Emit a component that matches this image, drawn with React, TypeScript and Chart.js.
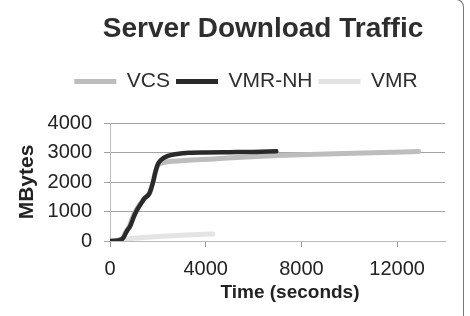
import React, { useEffect, useRef } from "react";
import { Chart, registerables } from "chart.js";

Chart.register(...registerables);

const chartTitle = "Server Download Traffic";
const xAxisTitle = "Time (seconds)";
const yAxisTitle = "MBytes";
const seriesNames = ["VCS", "VMR-NH", "VMR"];

const vcsX = [0, 500, 650, 800, 950, 1100, 1250, 1450, 1650, 1800, 1900, 2000, 2200, 2600, 3300, 4300, 5500, 7000, 9000, 11000, 12900];
const vcsY = [0, 60, 300, 480, 800, 1050, 1250, 1450, 1620, 2000, 2330, 2560, 2650, 2700, 2740, 2780, 2840, 2900, 2950, 2990, 3030];

const vmrNhX = [0, 350, 550, 700, 850, 1000, 1150, 1300, 1450, 1650, 1800, 1900, 2000, 2150, 2400, 2800, 3300, 4000, 5000, 6000, 6950];
const vmrNhY = [0, 20, 100, 330, 520, 830, 1080, 1270, 1450, 1620, 2000, 2350, 2600, 2760, 2880, 2950, 2990, 3000, 3010, 3020, 3040];

const vmrX = [0, 1000, 2000, 3000, 4300];
const vmrY = [20, 90, 150, 195, 240];

const xTicks = [0, 4000, 8000, 12000];
const yTicks = [0, 1000, 2000, 3000, 4000];

const FONT = "'Liberation Sans', Arial, Helvetica, sans-serif";

function pts(xs: number[], ys: number[]) {
  return xs.map((x, i) => ({ x, y: ys[i] }));
}

const textPlugin = {
  id: "customTexts",
  afterDraw(chart: any) {
    const ctx = chart.ctx;
    ctx.save();
    ctx.fillStyle = "#2e2e2e";
    ctx.textAlign = "center";
    ctx.textBaseline = "alphabetic";
    ctx.font = `bold 28px ${FONT}`;
    ctx.fillText(chartTitle, 263, 37);
    ctx.fillStyle = "#222";
    ctx.textBaseline = "middle";
    ctx.font = `bold 19px ${FONT}`;
    ctx.fillText(xAxisTitle, 290, 293);
    ctx.restore();
  },
};

const legendSpacePlugin = {
  id: "legendSpace",
  beforeInit(chart: any) {
    const legend = chart.legend;
    if (!legend) return;
    const fit = legend.fit;
    legend.fit = function () {
      fit.call(this);
      this.height += 21;
    };
  },
};

export default function App() {
  const ref = useRef<HTMLCanvasElement | null>(null);
  useEffect(() => {
    if (!ref.current) return;
    const colors = ["#bdbdbd", "#2a2a2a", "#e4e4e4"];
    const chart = new Chart(ref.current, {
      type: "line",
      data: {
        datasets: [
          { label: seriesNames[0], data: pts(vcsX, vcsY), borderColor: colors[0], backgroundColor: colors[0], borderWidth: 5, order: 1 },
          { label: seriesNames[1], data: pts(vmrNhX, vmrNhY), borderColor: colors[1], backgroundColor: colors[1], borderWidth: 4.5, order: 0 },
          { label: seriesNames[2], data: pts(vmrX, vmrY), borderColor: colors[2], backgroundColor: colors[2], borderWidth: 5, order: 2 },
        ].map((d) => ({ ...d, pointRadius: 0, cubicInterpolationMode: "monotone" as const, borderCapStyle: "round" as const, borderJoinStyle: "round" as const, fill: false })),
      },
      plugins: [textPlugin, legendSpacePlugin],
      options: {
        animation: false,
        responsive: false,
        layout: { padding: { left: 47, right: 25, top: 65, bottom: 0 } },
        plugins: {
          title: { display: false },
          legend: {
            display: true,
            labels: {
              color: "#2e2e2e",
              font: { family: FONT, size: 21 },
              boxWidth: 42,
              boxHeight: 5,
              padding: 6,
              sort: (a: any, b: any) => a.datasetIndex - b.datasetIndex,
              generateLabels: (c: any) =>
                Chart.defaults.plugins.legend.labels.generateLabels(c).map((l: any) => ({ ...l, lineWidth: 0, fillStyle: l.strokeStyle })),
            },
          },
          tooltip: { enabled: false },
        },
        scales: {
          x: {
            type: "linear",
            min: 0,
            max: 14000,
            afterBuildTicks: (s: any) => { s.ticks = xTicks.map((v) => ({ value: v })); },
            afterFit: (s: any) => { s.height = 75; },
            ticks: { color: "#222", font: { family: FONT, size: 20 }, padding: 10, maxRotation: 0, callback: (v: any) => String(v) },
            grid: { drawOnChartArea: false, drawTicks: true, tickLength: 6, color: "#9a9a9a" },
            border: { display: true, color: "#bbbbbb", width: 1 },
            title: { display: false },
          },
          y: {
            type: "linear",
            min: 0,
            max: 4000,
            afterBuildTicks: (s: any) => { s.ticks = yTicks.map((v) => ({ value: v })); },
            afterFit: (s: any) => { s.width = 63; },
            ticks: { color: "#222", font: { family: FONT, size: 20 }, padding: 12, callback: (v: any) => String(v) },
            grid: { drawOnChartArea: true, drawTicks: true, tickLength: 6, color: "#a3a3a3", lineWidth: 1 },
            border: { display: true, color: "#bbbbbb", width: 1 },
            title: { display: true, text: yAxisTitle, color: "#222", font: { family: FONT, size: 21, weight: "bold" }, padding: { top: -32.5, bottom: 0 } },
          },
        },
      },
    });
    return () => chart.destroy();
  }, []);
  return (
    <div style={{ position: "fixed", left: 0, top: 0, width: 470, height: 316, background: "#fff", overflow: "hidden" }}>
      <canvas ref={ref} width={470} height={316} style={{ width: 470, height: 316, display: "block" }} />
      <div style={{ position: "absolute", left: -10, top: -1, width: 473, height: 340, borderRight: "1.5px solid #777", borderTop: "1.5px solid #777", borderTopRightRadius: 8, pointerEvents: "none" }} />
    </div>
  );
}
